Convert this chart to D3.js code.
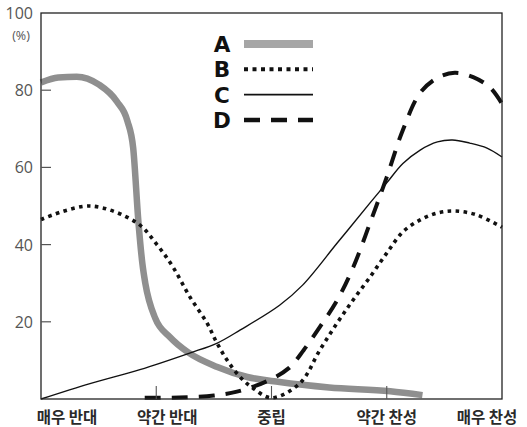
<html>
<head>
    <meta charSet="utf-8">
    <title>Opinion distribution</title>
    <script src="https://d3js.org/d3.v7.min.js"></script>
    <style>
        body { margin: 0; background: #fff; }
    </style>
</head>
<body>
<svg id="chart"></svg>
<script>
    // categories along the x axis (0..4)
    const categories = ["매우 반대", "약간 반대", "중립", "약간 찬성", "매우 찬성"];
    const yTicks = [20, 40, 60, 80];
    const seriesKeys = ["A", "B", "C", "D"];

    // each series: [position on category axis, percent]
    const seriesA = [[0, 82], [0.15, 83.3], [0.31, 83.5], [0.5, 81.5], [0.66, 77], [0.75, 72],
        [0.8, 65], [0.845, 46], [0.88, 35], [0.905, 30], [0.99, 21], [1.12, 16], [1.28, 12],
        [1.53, 8.3], [1.79, 5.7], [2.07, 4.4], [2.5, 3], [3.03, 2], [3.31, 1]];
    const seriesB = [[0, 46.5], [0.425, 50], [0.833, 45.6], [1.006, 40], [1.145, 34.2], [1.293, 26.4],
        [1.44, 19.7], [1.527, 14.5], [1.614, 10.1], [1.727, 5.7], [1.84, 2.8], [2.0, 0.3],
        [2.247, 4.1], [2.42, 12.7], [2.57, 19.7], [2.707, 25.6], [2.855, 31.6], [3.0, 37.8],
        [3.14, 43.3], [3.29, 46.4], [3.44, 48.2], [3.59, 48.7], [3.78, 47.7], [4.0, 44.5]];
    const seriesC = [[0, 0], [0.425, 4], [0.858, 7.6], [1.29, 11.9], [1.53, 14.5], [1.73, 17.9],
        [2.07, 24.3], [2.27, 29.5], [2.57, 40.4], [2.855, 50.8], [3.0, 56], [3.14, 61], [3.29, 64.5],
        [3.44, 66.6], [3.57, 67.1], [3.72, 66.3], [3.87, 65], [4.0, 62.7]];
    const seriesD = [[0.9, 0.3], [1.2, 0.4], [1.5, 0.9], [1.7, 1.9], [1.96, 4.6], [2.15, 8],
        [2.28, 12.7], [2.42, 18.7], [2.57, 25.6], [2.71, 34.2], [2.855, 45.6], [3.0, 57.5],
        [3.14, 69.7], [3.29, 79.3], [3.44, 83.2], [3.59, 84.5], [3.75, 83.4], [3.9, 80.6], [4.0, 76.5]];

    const width = 527;
    const height = 427;
    const margin = {top: 13, right: 25, bottom: 28, left: 41};

    const styles = {
        A: {stroke: "#8f8f8f", width: 6.5, dash: null, legendStroke: "#a6a6a6", legendWidth: 8, legendDash: null},
        B: {stroke: "#111", width: 3.6, dash: "3.6,4.4", legendStroke: "#111", legendWidth: 4, legendDash: "4,4.5"},
        C: {stroke: "#111", width: 1.4, dash: null, legendStroke: "#111", legendWidth: 1.6, legendDash: null},
        D: {stroke: "#111", width: 4, dash: "16,11", legendStroke: "#111", legendWidth: 4.5, legendDash: "16,11"}
    };
    const labelShift = [26, 11, 0, 0, -15]; // label offsets from the tick, as in the original

    const svg = d3.select("#chart")
        .attr("width", width)
        .attr("height", height);

    const x = d3.scaleLinear().domain([0, 4]).range([margin.left, width - margin.right]);
    const y = d3.scaleLinear().domain([0, 100]).range([height - margin.bottom, margin.top]);

    // A has a near vertical drop, so keep it monotone; the rest get a softer curve
    const lineA = d3.line()
        .x(d => x(d[0]))
        .y(d => y(d[1]))
        .curve(d3.curveMonotoneX);
    const lineSoft = d3.line()
        .x(d => x(d[0]))
        .y(d => y(d[1]))
        .curve(d3.curveCatmullRom.alpha(0.5));

    const series = {A: seriesA, B: seriesB, C: seriesC, D: seriesD};
    svg.selectAll(".curve")
        .data(seriesKeys)
        .join("path")
        .attr("class", "curve")
        .attr("fill", "none")
        .attr("stroke", k => styles[k].stroke)
        .attr("stroke-width", k => styles[k].width)
        .attr("stroke-dasharray", k => styles[k].dash)
        .attr("d", k => k === "A" ? lineA(series[k]) : lineSoft(series[k]));

    // frame
    svg.append("rect")
        .attr("x", x(0))
        .attr("y", y(100))
        .attr("width", x(4) - x(0))
        .attr("height", y(0) - y(100))
        .attr("fill", "none")
        .attr("stroke", "#222")
        .attr("stroke-width", 1.3);

    // y ticks (inside) and labels
    svg.selectAll(".ytick")
        .data(yTicks)
        .join("line")
        .attr("x1", x(0))
        .attr("x2", x(0) + 10)
        .attr("y1", d => y(d))
        .attr("y2", d => y(d))
        .attr("stroke", "#555")
        .attr("stroke-width", 1.2);

    svg.selectAll(".ylabel")
        .data(yTicks.concat([100]))
        .join("text")
        .attr("x", x(0) - 8)
        .attr("y", d => y(d) + 6)
        .attr("text-anchor", "end")
        .attr("font-family", "'Open Sans', 'Noto Sans', sans-serif")
        .attr("font-size", 16)
        .attr("fill", "#555")
        .text(d => d);

    svg.append("text")
        .attr("x", 21)
        .attr("y", y(100) + 27)
        .attr("text-anchor", "middle")
        .attr("font-family", "'Open Sans', 'Noto Sans', sans-serif")
        .attr("font-size", 12.5)
        .attr("fill", "#555")
        .text("(%)");

    // x ticks (inside, pointing up)
    svg.selectAll(".xtick")
        .data([1, 2, 3])
        .join("line")
        .attr("x1", d => x(d))
        .attr("x2", d => x(d))
        .attr("y1", y(0))
        .attr("y2", y(0) - 13)
        .attr("stroke", "#555")
        .attr("stroke-width", 1.1);

    svg.selectAll(".xlabel")
        .data(categories)
        .join("text")
        .attr("x", (d, i) => x(i) + labelShift[i])
        .attr("y", height - 4)
        .attr("text-anchor", "middle")
        .attr("font-family", "'Noto Sans CJK KR', sans-serif")
        .attr("font-weight", 700)
        .attr("font-size", 15.5)
        .attr("fill", "#2a2a2a")
        .text(d => d);

    // legend
    const legendY = d3.scalePoint().domain(seriesKeys).range([44, 120]);
    const legend = svg.selectAll(".legend")
        .data(seriesKeys)
        .join("g")
        .attr("class", "legend")
        .attr("transform", k => `translate(0,${legendY(k)})`);

    legend.append("text")
        .attr("x", 222)
        .attr("y", 8)
        .attr("text-anchor", "middle")
        .attr("font-family", "'DejaVu Sans', sans-serif")
        .attr("font-weight", 700)
        .attr("font-size", 21.5)
        .attr("fill", "#111")
        .text(k => k);

    legend.append("line")
        .attr("x1", 244)
        .attr("x2", 313)
        .attr("y1", 0)
        .attr("y2", 0)
        .attr("stroke", k => styles[k].legendStroke)
        .attr("stroke-width", k => styles[k].legendWidth)
        .attr("stroke-dasharray", k => styles[k].legendDash);
</script>
</body>
</html>
